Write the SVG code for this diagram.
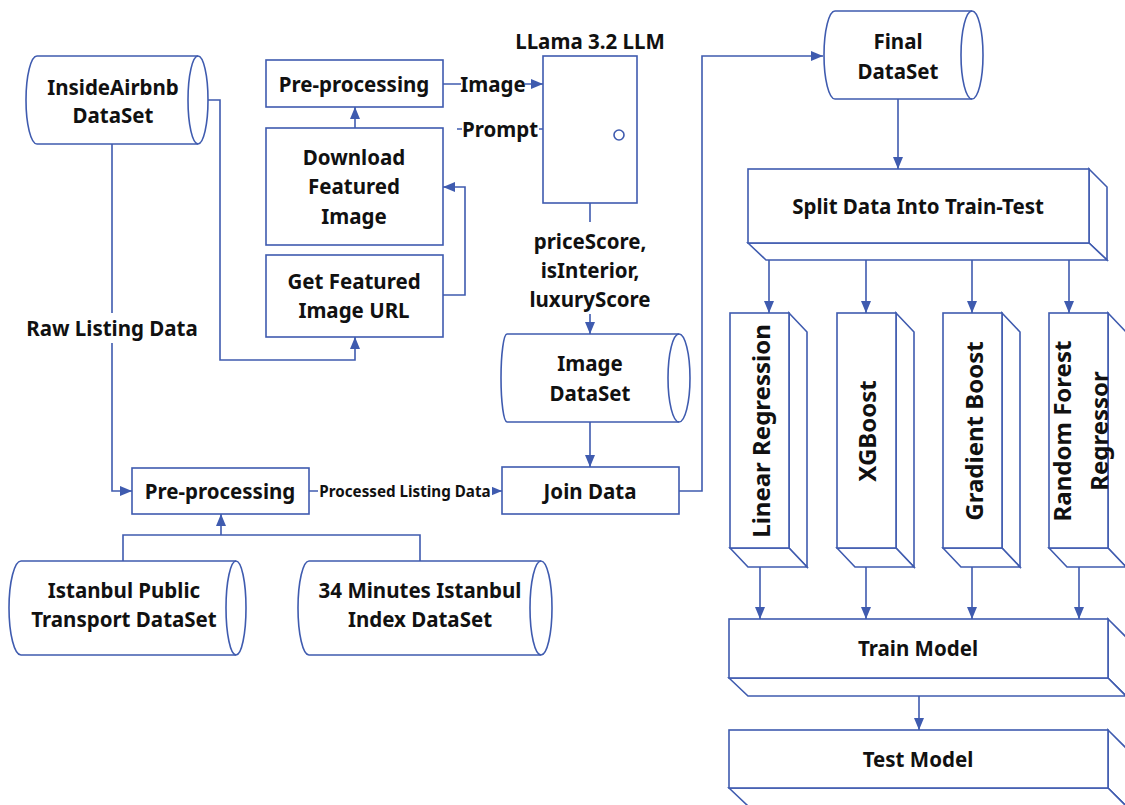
<svg xmlns="http://www.w3.org/2000/svg" width="1125" height="805" viewBox="0 0 1125 805">
<defs>
<style>
.s{fill:#fff;stroke:#3F5BAF;stroke-width:1.6}
.e{fill:none;stroke:#3F5BAF;stroke-width:1.6}
.t{font-family:"Noto Sans","Open Sans","Liberation Sans",sans-serif;font-weight:bold;font-size:20.5px;fill:#111;text-anchor:middle;dominant-baseline:central}
.r{font-size:24px}
.sm{font-size:15.2px}
</style>
<marker id="arr" viewBox="0 0 12 10" refX="12" refY="5" markerWidth="12" markerHeight="10" markerUnits="userSpaceOnUse" orient="auto">
<path d="M0,0 L12,5 L0,10 Z" fill="#3F5BAF"/>
</marker>
</defs>
<rect width="1125" height="805" fill="#fff"/>

<g id="connectors">
<path class="e" d="M112,144 V491 H132" marker-end="url(#arr)"/>
<path class="e" d="M208,100 H220 V360 H355 V337" marker-end="url(#arr)"/>
<path class="e" d="M443,295 H465 V187 H443" marker-end="url(#arr)"/>
<path class="e" d="M355,128 V107" marker-end="url(#arr)"/>
<path class="e" d="M443,84 H543" marker-end="url(#arr)"/>
<path class="e" d="M457,129 H543"/>
<path class="e" d="M590,203 V334" marker-end="url(#arr)"/>
<path class="e" d="M590,422 V467" marker-end="url(#arr)"/>
<path class="e" d="M309,491 H502" marker-end="url(#arr)"/>
<path class="e" d="M679,491 H702 V56 H823" marker-end="url(#arr)"/>
<path class="e" d="M898,99 V169" marker-end="url(#arr)"/>
<path class="e" d="M769,260 V313" marker-end="url(#arr)"/>
<path class="e" d="M866,260 V313" marker-end="url(#arr)"/>
<path class="e" d="M972,260 V313" marker-end="url(#arr)"/>
<path class="e" d="M1069,260 V313" marker-end="url(#arr)"/>
<path class="e" d="M760,567 V619" marker-end="url(#arr)"/>
<path class="e" d="M866,567 V619" marker-end="url(#arr)"/>
<path class="e" d="M972,567 V619" marker-end="url(#arr)"/>
<path class="e" d="M1079,567 V619" marker-end="url(#arr)"/>
<path class="e" d="M919,696 V730" marker-end="url(#arr)"/>
<path class="e" d="M123,561 V535 H420 V561"/>
<path class="e" d="M221,535 V514" marker-end="url(#arr)"/>
<!-- labels -->
<rect x="24" y="313" width="176" height="30" fill="#fff"/>
<text class="t" x="112" y="328">Raw Listing Data</text>
<rect x="461" y="72" width="64" height="24" fill="#fff"/>
<text class="t" x="493" y="84">Image</text>
<rect x="462" y="117" width="77" height="24" fill="#fff"/>
<text class="t" x="500" y="129">Prompt</text>
<rect x="518" y="222" width="144" height="92" fill="#fff"/>
<text class="t" x="590" y="241">priceScore,</text>
<text class="t" x="590" y="270">isInterior,</text>
<text class="t" x="590" y="299">luxuryScore</text>
<rect x="318" y="481" width="174" height="20" fill="#fff"/>
<text class="t sm" x="405" y="491">Processed Listing Data</text>
</g>

<g id="insideairbnb">
<path class="s" d="M37,56 H198 A10,44 0 0 1 198,144 H37 A11,44 0 0 1 37,56 Z"/>
<path class="e" d="M198,56 A10,44 0 0 0 198,144"/>
<text class="t" x="113" y="87">InsideAirbnb</text>
<text class="t" x="113" y="115">DataSet</text>
</g>

<g id="preproc-image">
<rect class="s" x="266" y="60" width="177" height="47"/>
<text class="t" x="354" y="84">Pre-processing</text>
</g>

<g id="download-image">
<rect class="s" x="266" y="128" width="177" height="117"/>
<text class="t" x="354" y="157">Download</text>
<text class="t" x="354" y="186">Featured</text>
<text class="t" x="354" y="216">Image</text>
</g>

<g id="get-url">
<rect class="s" x="266" y="255" width="177" height="82"/>
<text class="t" x="354" y="281">Get Featured</text>
<text class="t" x="354" y="310">Image URL</text>
</g>

<g id="llm">
<text class="t" x="590" y="41">LLama 3.2 LLM</text>
<rect class="s" x="543" y="56" width="94" height="147"/>
<circle class="s" cx="619" cy="135" r="5"/>
</g>

<g id="image-dataset">
<path class="s" d="M507,334 H679 A11,44 0 0 1 679,422 H507 A6,44 0 0 1 507,334 Z"/>
<path class="e" d="M679,334 A11,44 0 0 0 679,422"/>
<text class="t" x="590" y="363">Image</text>
<text class="t" x="590" y="393">DataSet</text>
</g>

<g id="join-data">
<rect class="s" x="502" y="467" width="177" height="47"/>
<text class="t" x="590" y="491">Join Data</text>
</g>

<g id="preproc-listing">
<rect class="s" x="132" y="468" width="177" height="46"/>
<text class="t" x="220" y="491">Pre-processing</text>
</g>

<g id="istanbul-transport">
<path class="s" d="M21,561 H236 A10,47 0 0 1 236,655 H21 A12,47 0 0 1 21,561 Z"/>
<path class="e" d="M236,561 A10,47 0 0 0 236,655"/>
<text class="t" x="124" y="590">Istanbul Public</text>
<text class="t" x="124" y="619">Transport DataSet</text>
</g>

<g id="minutes-index">
<path class="s" d="M309,561 H541 A11,47 0 0 1 541,655 H309 A11,47 0 0 1 309,561 Z"/>
<path class="e" d="M541,561 A11,47 0 0 0 541,655"/>
<text class="t" x="420" y="590">34 Minutes Istanbul</text>
<text class="t" x="420" y="619">Index DataSet</text>
</g>

<g id="final-dataset">
<path class="s" d="M835,11 H972 A11,44 0 0 1 972,99 H835 A11,44 0 0 1 835,11 Z"/>
<path class="e" d="M972,11 A11,44 0 0 0 972,99"/>
<text class="t" x="898" y="41">Final</text>
<text class="t" x="898" y="71">DataSet</text>
</g>

<g id="split">
<path class="s" d="M1089,169 L1107,187 V260 L1089,243 Z"/>
<path class="s" d="M748,243 L766,260 H1107 L1089,243 Z"/>
<rect class="s" x="748" y="169" width="341" height="74"/>
<text class="t" x="918" y="206">Split Data Into Train-Test</text>
</g>

<g id="linear-regression">
<path class="s" d="M789,313 L807,332 V567 L789,548 Z"/>
<path class="s" d="M730,548 L748,567 H807 L789,548 Z"/>
<rect class="s" x="730" y="313" width="59" height="235"/>
<text class="t r" transform="translate(760,431) rotate(-90)">Linear Regression</text>
</g>

<g id="xgboost">
<path class="s" d="M896,313 L914,332 V567 L896,548 Z"/>
<path class="s" d="M837,548 L855,567 H914 L896,548 Z"/>
<rect class="s" x="837" y="313" width="59" height="235"/>
<text class="t r" transform="translate(866,431) rotate(-90)">XGBoost</text>
</g>

<g id="gradient-boost">
<path class="s" d="M1002,313 L1020,332 V567 L1002,548 Z"/>
<path class="s" d="M943,548 L961,567 H1020 L1002,548 Z"/>
<rect class="s" x="943" y="313" width="59" height="235"/>
<text class="t r" transform="translate(973,431) rotate(-90)">Gradient Boost</text>
</g>

<g id="random-forest">
<path class="s" d="M1108,313 L1126,332 V567 L1108,548 Z"/>
<path class="s" d="M1049,548 L1067,567 H1126 L1108,548 Z"/>
<rect class="s" x="1049" y="313" width="59" height="235"/>
<text class="t r" transform="translate(1061,431) rotate(-90)">Random Forest</text>
<text class="t r" transform="translate(1098,431) rotate(-90)">Regressor</text>
</g>

<g id="train-model">
<path class="s" d="M1108,619 L1126,637 V696 L1108,678 Z"/>
<path class="s" d="M729,678 L748,696 H1126 L1108,678 Z"/>
<rect class="s" x="729" y="619" width="379" height="59"/>
<text class="t" x="918" y="648">Train Model</text>
</g>

<g id="test-model">
<path class="s" d="M1108,730 L1126,748 V806 L1108,788 Z"/>
<path class="s" d="M729,788 L748,806 H1126 L1108,788 Z"/>
<rect class="s" x="729" y="730" width="379" height="58"/>
<text class="t" x="918" y="759">Test Model</text>
</g>
</svg>
